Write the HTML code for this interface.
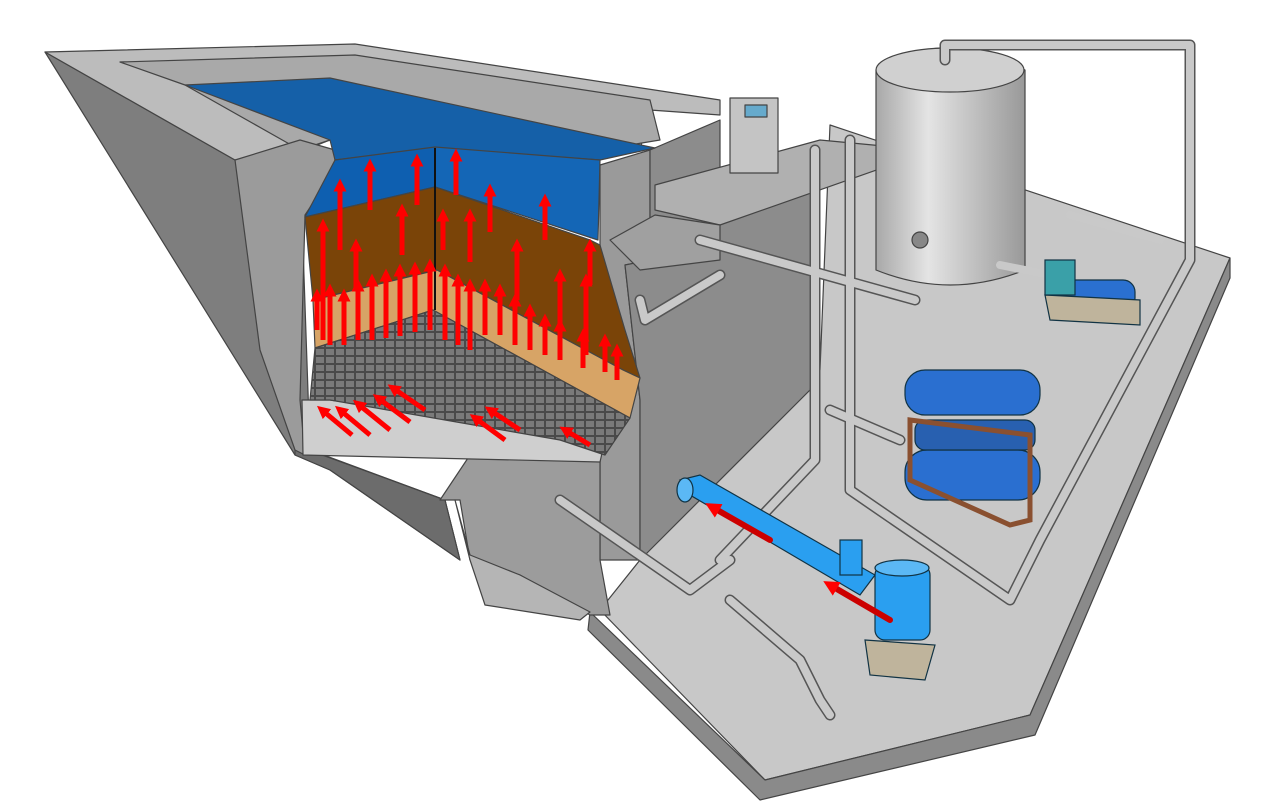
<!DOCTYPE html>
<html><head><meta charset="utf-8"><style>html,body{margin:0;padding:0;background:#fff}svg{display:block}</style></head>
<body>
<svg width="1275" height="803" viewBox="0 0 1275 803" xmlns="http://www.w3.org/2000/svg">
<defs>
<marker id="ah" markerWidth="2.6" markerHeight="2.6" refX="1.3" refY="1.3" orient="auto" markerUnits="strokeWidth"><path d="M0,0 L2.6,1.3 L0,2.6 z" fill="#f00"/></marker>
<linearGradient id="cyl" x1="0" y1="0" x2="1" y2="0"><stop offset="0" stop-color="#a8a8a8"/><stop offset="0.35" stop-color="#e4e4e4"/><stop offset="1" stop-color="#999"/></linearGradient>
<pattern id="grid" width="10" height="8" patternUnits="userSpaceOnUse"><rect width="10" height="8" fill="#7a7a7a"/><path d="M0,4 H10 M5,0 V8" stroke="#4a4a4a" stroke-width="2"/></pattern>
</defs>
<g stroke="#444" stroke-width="1.2" stroke-linejoin="round">
<!-- floor platform -->
<polygon points="600,610 640,560 820,370 830,125 1230,258 1030,715 765,780" fill="#c8c8c8"/>
<polygon points="590,612 765,780 1030,715 1230,258 1230,278 1035,735 760,800 588,630" fill="#8a8a8a"/>
<!-- outer left wall -->
<polygon points="45,52 235,160 300,160 310,450 445,500 460,560 330,470 295,455" fill="#7e7e7e"/>
<polygon points="295,445 445,500 460,560 330,470 295,455" fill="#6c6c6c"/>
<!-- rim top -->
<polygon points="45,52 355,44 720,100 720,115 650,110 640,150 330,140 305,150 235,160" fill="#bcbcbc"/>
<polygon points="120,62 355,55 650,100 660,140 600,150 330,140 300,150 185,85" fill="#a9a9a9"/>
<!-- inner walls -->
<polygon points="235,160 300,140 335,150 335,170 305,215 300,400 305,455 295,450 260,350" fill="#9b9b9b"/>
<polygon points="600,165 650,150 650,260 625,265 640,400 640,560 600,560 600,440" fill="#9a9a9a"/>
<polygon points="650,150 720,120 720,180 820,190 810,390 640,560 640,400 625,265 650,260" fill="#8c8c8c"/>
<!-- lower steps -->
<polygon points="440,500 470,455 600,440 600,560 610,615 590,615 520,575 470,560 460,500" fill="#9c9c9c"/>
<polygon points="455,500 470,560 485,605 580,620 590,612 520,575 470,555" fill="#b5b5b5"/>
<!-- water blue -->
<polygon points="185,85 330,78 655,148 600,160 435,148 335,160 330,140" fill="#1560a8"/>
<polygon points="335,160 435,147 435,187 305,217" fill="#0e5fb0"/>
<polygon points="435,147 600,160 598,240 435,187" fill="#1466b6"/>
<!-- brown -->
<polygon points="305,217 435,187 590,240 600,245 625,330 640,378 623,370 437,270 313,300" fill="#7a4408"/>
<!-- tan -->
<polygon points="313,300 437,270 623,370 640,378 630,418 433,310 315,348" fill="#d7a466"/>
<line x1="435" y1="148" x2="435" y2="310" stroke="#111" stroke-width="2"/>
<!-- basin floor + underdrain -->
<polygon points="302,400 330,400 470,420 605,440 600,462 303,455" fill="#cfcfcf"/>
<polygon points="315,348 433,310 630,418 605,455 560,440 330,400 310,400" fill="url(#grid)"/>
<!-- box under panel -->
<polygon points="655,185 820,140 905,148 905,160 720,225 655,210" fill="#b0b0b0"/>
<polygon points="610,240 655,215 720,225 720,260 640,270" fill="#a0a0a0"/>
<!-- panel -->
<rect x="730" y="98" width="48" height="75" fill="#c4c4c4"/>
<rect x="745" y="105" width="22" height="12" fill="#6ac"/>
<!-- tank -->
<path d="M876,70 Q950,25 1025,70 V270 Q950,300 876,270 Z" fill="url(#cyl)"/>
<ellipse cx="950" cy="70" rx="74" ry="22" fill="#d0d0d0"/>
<circle cx="920" cy="240" r="8" fill="#888"/>
</g>
<!-- pipes -->
<g fill="none" stroke-linecap="round" stroke-linejoin="round">
<g stroke="#555" stroke-width="11">
<path d="M700,240 L915,300"/><path d="M640,300 L645,320 L720,275"/>
<path d="M850,140 V490 L1010,600 L1040,540 L1190,260 V45 H945 V60"/>
<path d="M815,150 V460 L720,560"/>
<path d="M830,410 L900,440"/><path d="M560,500 L690,590 L730,560"/>
<path d="M730,600 L800,660 L820,700 L830,715"/>
</g>
<g stroke="#c9c9c9" stroke-width="8">
<path d="M700,240 L915,300"/><path d="M640,300 L645,320 L720,275"/>
<path d="M850,140 V490 L1010,600 L1040,540 L1190,260 V45 H945 V60"/>
<path d="M815,150 V460 L720,560"/>
<path d="M830,410 L900,440"/><path d="M560,500 L690,590 L730,560"/>
<path d="M730,600 L800,660 L820,700 L830,715"/>
<path d="M1000,265 L1050,275"/><path d="M1070,215 L1160,240"/>
</g>
</g>
<!-- blue pipe and pump -->
<g stroke="#134" stroke-width="1.2">
<polygon points="680,480 690,495 860,595 875,575 700,475" fill="#2a9ff0"/>
<ellipse cx="685" cy="490" rx="8" ry="12" fill="#5bb8f5"/>
<rect x="875" y="565" width="55" height="75" rx="10" fill="#2a9ff0"/>
<ellipse cx="902" cy="568" rx="27" ry="8" fill="#5bb8f5"/>
<polygon points="865,640 935,645 925,680 870,675" fill="#bfb49c"/>
<rect x="840" y="540" width="22" height="35" fill="#2a9ff0"/>
<rect x="905" y="370" width="135" height="45" rx="20" fill="#2a6fd0"/>
<rect x="905" y="450" width="135" height="50" rx="22" fill="#2a6fd0"/>
<rect x="915" y="420" width="120" height="30" rx="10" fill="#2860b0"/>
<polygon points="910,420 1030,435 1030,520 1010,525 910,480" fill="none" stroke="#8a5030" stroke-width="5"/>
<rect x="1060" y="280" width="75" height="30" rx="12" fill="#2a70d0"/>
<polygon points="1045,295 1140,300 1140,325 1050,320" fill="#bfb49c"/>
<rect x="1045" y="260" width="30" height="35" fill="#3aa0a8"/>
</g>
<!-- red arrows -->
<g stroke="#f00" stroke-width="5" marker-end="url(#ah)">
<path d="M323,340 V225"/><path d="M340,250 V185"/><path d="M370,210 V165"/><path d="M417,205 V160"/><path d="M456,195 V155"/>
<path d="M356,288 V245"/><path d="M402,255 V210"/><path d="M443,250 V215"/><path d="M470,262 V215"/><path d="M490,232 V190"/><path d="M545,240 V200"/>
<path d="M517,300 V245"/><path d="M560,325 V275"/><path d="M590,285 V245"/><path d="M586,355 V280"/><path d="M617,380 V350"/>
<path d="M317,330 V295"/><path d="M330,345 V290"/><path d="M344,345 V295"/><path d="M358,340 V285"/><path d="M372,340 V280"/><path d="M386,338 V275"/><path d="M400,336 V270"/><path d="M415,332 V268"/><path d="M430,330 V265"/><path d="M445,340 V270"/><path d="M458,345 V280"/><path d="M470,350 V285"/><path d="M485,335 V285"/><path d="M500,335 V290"/><path d="M515,345 V300"/><path d="M530,350 V310"/><path d="M545,355 V320"/><path d="M560,360 V325"/><path d="M583,368 V335"/><path d="M605,372 V340"/>
<path d="M352,435 L322,410"/><path d="M370,435 L340,410"/><path d="M390,430 L358,404"/><path d="M410,422 L378,398"/><path d="M425,410 L393,388"/>
<path d="M505,440 L475,418"/><path d="M520,430 L490,410"/><path d="M590,445 L565,430"/>
</g>
<g stroke="#c00" stroke-width="6" stroke-linecap="round">
<path d="M770,540 L712,507" marker-end="url(#ah)"/>
<path d="M890,620 L830,585" marker-end="url(#ah)"/>
</g>
</svg>
</body></html>
